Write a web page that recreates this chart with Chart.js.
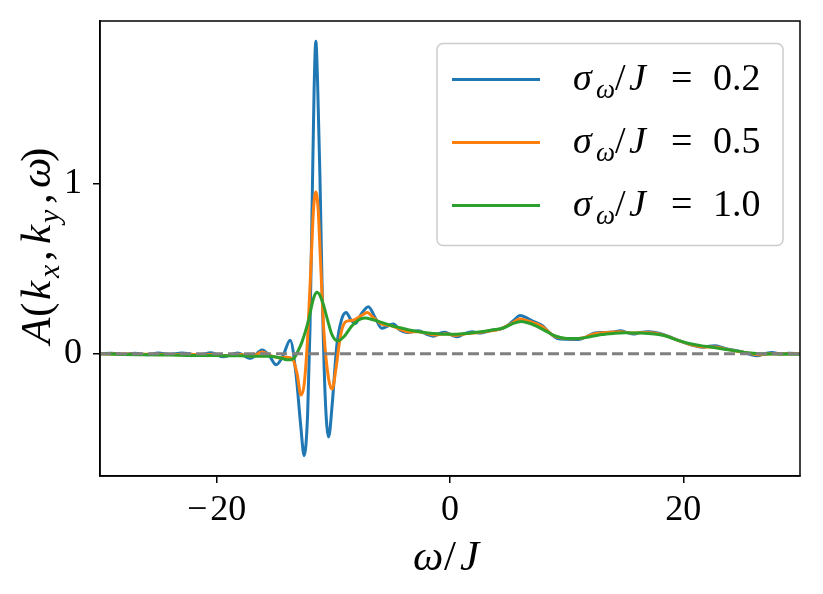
<!DOCTYPE html>
<html>
<head>
<meta charset="utf-8">
<script src="https://cdn.jsdelivr.net/npm/chart.js@4"></script>
<style>
  html, body { margin: 0; padding: 0; background: #fff; }
  canvas { display: block; }
</style>
</head>
<body>
<canvas id="specChart" width="823" height="594"></canvas>
<script>
// sigma/J = 0.2
const omega02 = [-30, -29, -28, -27, -26, -25, -24, -23, -22, -21.5, -20.5, -19.4, -18.2, -17.1, -16.1, -15.5, -14.9, -14.3, -13.7, -13.2, -12.8, -12.5, -12.2, -12.0, -11.8, -11.65, -11.5, -11.35, -11.15, -10.95, -10.7, -10.4, -10.1, -9.7, -9.3, -8.9, -8.5, -8.1, -7.6, -7.0, -6.4, -5.85, -5.3, -4.85, -4.3, -3.7, -3.2, -2.7, -2.0, -1.4, -0.9, -0.4, 0.1, 0.6, 1.2, 1.9, 2.5, 3.1, 3.7, 4.3, 5.0, 5.5, 6.0, 6.5, 7.0, 7.9, 8.5, 9.2, 10.0, 11.0, 11.7, 12.4, 13.2, 14.0, 14.6, 15.2, 15.7, 16.3, 17.0, 17.6, 18.2, 19.0, 19.9, 20.8, 21.6, 22.2, 22.7, 23.4, 24.2, 25.0, 25.7, 26.3, 27.0, 27.6, 28.3, 29.0, 30];
const vals02 = [0, 0.003, -0.004, 0.003, -0.006, 0.004, -0.005, 0.005, -0.004, -0.008, 0.006, -0.018, 0.004, -0.027, 0.022, -0.01, -0.065, -0.01, 0.08, -0.12, -0.42, -0.60, -0.35, 0.15, 0.95, 1.55, 1.84, 1.6, 1.05, 0.35, -0.25, -0.49, -0.30, 0.05, 0.2, 0.243, 0.2, 0.178, 0.235, 0.277, 0.21, 0.15, 0.165, 0.175, 0.14, 0.125, 0.13, 0.135, 0.115, 0.103, 0.12, 0.126, 0.112, 0.1, 0.118, 0.13, 0.122, 0.13, 0.14, 0.145, 0.17, 0.2, 0.225, 0.215, 0.195, 0.166, 0.125, 0.09, 0.085, 0.084, 0.1, 0.122, 0.125, 0.128, 0.135, 0.125, 0.116, 0.125, 0.13, 0.126, 0.116, 0.095, 0.07, 0.05, 0.038, 0.045, 0.047, 0.035, 0.022, 0.012, -0.003, -0.012, 0.0, 0.008, -0.002, 0.003, 0];

// sigma/J = 0.5
const omega05 = [-30, -28, -26, -24, -22, -20, -19.3, -18, -17, -16.1, -15.2, -14.6, -14.0, -13.5, -13.1, -12.78, -12.5, -12.2, -11.9, -11.7, -11.5, -11.3, -11.1, -10.8, -10.4, -10.1, -9.8, -9.4, -9.0, -8.6, -8.2, -7.6, -7.1, -6.6, -5.85, -5.0, -4.3, -3.5, -2.7, -2.0, -1.2, -0.4, 0.5, 1.5, 2.5, 3.5, 4.3, 5.2, 6.0, 6.8, 7.9, 8.8, 9.6, 10.6, 11.5, 12.4, 13.5, 14.6, 15.6, 16.6, 17.5, 18.4, 19.5, 20.6, 21.8, 22.7, 23.6, 24.6, 25.6, 26.4, 27.5, 28.5, 30];
const vals05 = [0, -0.002, -0.003, -0.004, -0.004, -0.005, -0.012, -0.004, -0.015, 0.01, -0.015, -0.025, -0.02, -0.03, -0.12, -0.243, -0.18, 0.1, 0.55, 0.85, 0.953, 0.85, 0.55, 0.12, -0.15, -0.208, -0.1, 0.1, 0.185, 0.195, 0.2, 0.225, 0.243, 0.215, 0.175, 0.165, 0.145, 0.128, 0.13, 0.12, 0.11, 0.118, 0.108, 0.12, 0.125, 0.135, 0.145, 0.175, 0.205, 0.19, 0.16, 0.11, 0.092, 0.088, 0.095, 0.118, 0.125, 0.13, 0.122, 0.125, 0.122, 0.108, 0.08, 0.055, 0.04, 0.04, 0.028, 0.015, 0.003, -0.006, 0.0, -0.001, 0];

// sigma/J = 1.0
const omega10 = [-30, -28, -26, -24, -22, -20, -18, -16.5, -15.5, -14.5, -14.0, -13.6, -13.3, -13.0, -12.7, -12.4, -12.1, -11.8, -11.6, -11.4, -11.2, -10.9, -10.5, -10.1, -9.6, -9.1, -8.4, -7.8, -7.3, -6.6, -5.8, -5.0, -4.4, -3.5, -2.5, -1.5, -0.5, 0.5, 1.5, 2.5, 3.5, 4.5, 5.3, 6.1, 6.8, 7.5, 8.3, 9.0, 10.0, 11.0, 12.0, 13.0, 14.0, 15.0, 16.0, 17.0, 18.0, 18.7, 19.5, 20.5, 21.5, 22.5, 23.5, 24.5, 25.5, 26.5, 28, 30];
const vals10 = [0, -0.004, -0.006, -0.008, -0.01, -0.01, -0.012, -0.014, -0.015, -0.025, -0.035, -0.036, -0.02, 0.02, 0.067, 0.13, 0.204, 0.3, 0.345, 0.363, 0.35, 0.3, 0.2, 0.11, 0.076, 0.1, 0.165, 0.2, 0.21, 0.2, 0.183, 0.165, 0.155, 0.14, 0.128, 0.12, 0.115, 0.115, 0.12, 0.128, 0.138, 0.15, 0.175, 0.19, 0.18, 0.16, 0.13, 0.105, 0.09, 0.09, 0.1, 0.113, 0.12, 0.124, 0.122, 0.12, 0.112, 0.1, 0.08, 0.06, 0.048, 0.038, 0.027, 0.017, 0.006, 0.0, -0.002, -0.003];

const zeroLineX = [-30, 30];
const zeroLineY = [0, 0];

const sigmaLabels = ['0.2', '0.5', '1.0'];
const seriesColors = ['#1f77b4', '#ff7f0e', '#2ca02c'];
const xTicks = [-20, 0, 20];
const yTicks = [0, 1];

const FONT = '"Liberation Serif", "DejaVu Serif", serif';

function toPoints(xs, ys) {
    return xs.map((x, i) => ({ x: x, y: ys[i] }));
}

// pieces of math text: italic / subscript, each placed at an offset "at"
function drawMath(ctx, segs, x, y, size) {
    ctx.textAlign = 'left';
    ctx.textBaseline = 'alphabetic';
    segs.forEach(s => {
        const fs = s.sub ? Math.round(size * 0.7) : size;
        ctx.font = (s.i ? 'italic ' : '') + fs + 'px ' + FONT;
        ctx.fillText(s.t, x + s.at, y + (s.sub ? size * 0.22 : 0));
    });
}

const decorPlugin = {
    id: 'decor',
    afterDatasetsDraw(chart) {
        const ctx = chart.ctx;
        const a = chart.chartArea;
        ctx.save();

        // frame
        ctx.strokeStyle = '#000';
        ctx.lineWidth = 1.5;
        ctx.strokeRect(a.left, a.top, a.right - a.left, a.bottom - a.top);

        // legend box
        const bx = 437, by = 43.5, bw = 346, bh = 202, r = 6;
        ctx.beginPath();
        ctx.moveTo(bx + r, by);
        ctx.arcTo(bx + bw, by, bx + bw, by + bh, r);
        ctx.arcTo(bx + bw, by + bh, bx, by + bh, r);
        ctx.arcTo(bx, by + bh, bx, by, r);
        ctx.arcTo(bx, by, bx + bw, by, r);
        ctx.closePath();
        ctx.fillStyle = 'rgba(255,255,255,0.8)';
        ctx.fill();
        ctx.strokeStyle = '#cccccc';
        ctx.lineWidth = 1.5;
        ctx.stroke();

        ctx.fillStyle = '#000';
        sigmaLabels.forEach((lab, i) => {
            const ly = 79.5 + i * 63;
            ctx.strokeStyle = seriesColors[i];
            ctx.lineWidth = 3;
            ctx.beginPath();
            ctx.moveTo(452, ly);
            ctx.lineTo(540, ly);
            ctx.stroke();
            drawMath(ctx, [
                { t: 'σ', i: true, at: 0 },
                { t: 'ω', i: true, sub: true, at: 23 },
                { t: '/', at: 42 },
                { t: 'J', i: true, at: 56 },
                { t: '=', at: 98 },
                { t: lab, at: 140 }
            ], 573, ly + 10, 38);
        });

        // x title
        drawMath(ctx, [
            { t: 'ω', i: true, at: 0 },
            { t: '/', at: 31 },
            { t: 'J', i: true, at: 47 }
        ], 413, 570, 43);

        // y title (rotated, read bottom to top)
        ctx.translate(50, 344);
        ctx.rotate(-Math.PI / 2);
        drawMath(ctx, [
            { t: 'A', i: true, at: 0 },
            { t: '(', at: 27 },
            { t: 'k', i: true, at: 44 },
            { t: 'x', i: true, sub: true, at: 66 },
            { t: ',', at: 83 },
            { t: 'k', i: true, at: 100 },
            { t: 'y', i: true, sub: true, at: 121 },
            { t: ',', at: 140 },
            { t: 'ω', i: true, at: 156 },
            { t: ')', at: 182 }
        ], 0, 0, 43);

        ctx.restore();
    }
};

const ctx = document.getElementById('specChart');
const specChart = new Chart(ctx, {
    type: 'line',
    data: {
        datasets: [
            {
                label: 'σω/J = 0.2',
                data: toPoints(omega02, vals02),
                borderColor: seriesColors[0],
                borderWidth: 3,
                order: 3
            },
            {
                label: 'σω/J = 0.5',
                data: toPoints(omega05, vals05),
                borderColor: seriesColors[1],
                borderWidth: 3,
                order: 2
            },
            {
                label: 'σω/J = 1.0',
                data: toPoints(omega10, vals10),
                borderColor: seriesColors[2],
                borderWidth: 3,
                order: 1
            },
            {
                label: 'zero',
                data: toPoints(zeroLineX, zeroLineY),
                borderColor: '#808080',
                borderWidth: 3,
                borderDash: [11, 5],
                order: 0
            }
        ]
    },
    options: {
        responsive: false,
        animation: false,
        devicePixelRatio: 1,
        elements: {
            point: { radius: 0 },
            line: { cubicInterpolationMode: 'monotone', fill: false, borderCapStyle: 'butt' }
        },
        layout: { padding: { top: 21, right: 23, left: 0, bottom: 0 } },
        plugins: {
            legend: { display: false },
            tooltip: { enabled: false }
        },
        scales: {
            x: {
                type: 'linear',
                min: -30,
                max: 30,
                afterBuildTicks: s => { s.ticks = xTicks.map(v => ({ value: v })); },
                afterFit: s => { s.height = 118; s.paddingLeft = 0; s.paddingRight = 0; },
                grid: { drawOnChartArea: false, drawTicks: true, tickLength: 7, color: '#000', lineWidth: 1.5 },
                border: { display: true, color: '#000', width: 1.5 },
                ticks: {
                    color: '#000',
                    padding: 6,
                    maxRotation: 0,
                    font: { family: FONT, size: 36 },
                    callback: v => (v < 0 ? '\u2212\u200A' + Math.abs(v) : String(v))
                }
            },
            y: {
                type: 'linear',
                min: -0.72,
                max: 1.96,
                afterBuildTicks: s => { s.ticks = yTicks.map(v => ({ value: v })); },
                afterFit: s => { s.width = 100; s.paddingTop = 0; s.paddingBottom = 0; },
                grid: { drawOnChartArea: false, drawTicks: true, tickLength: 7, color: '#000', lineWidth: 1.5 },
                border: { display: true, color: '#000', width: 1.5 },
                ticks: {
                    color: '#000',
                    padding: 11,
                    font: { family: FONT, size: 36 },
                    callback: v => String(v)
                }
            }
        }
    },
    plugins: [decorPlugin]
});
</script>
</body>
</html>
